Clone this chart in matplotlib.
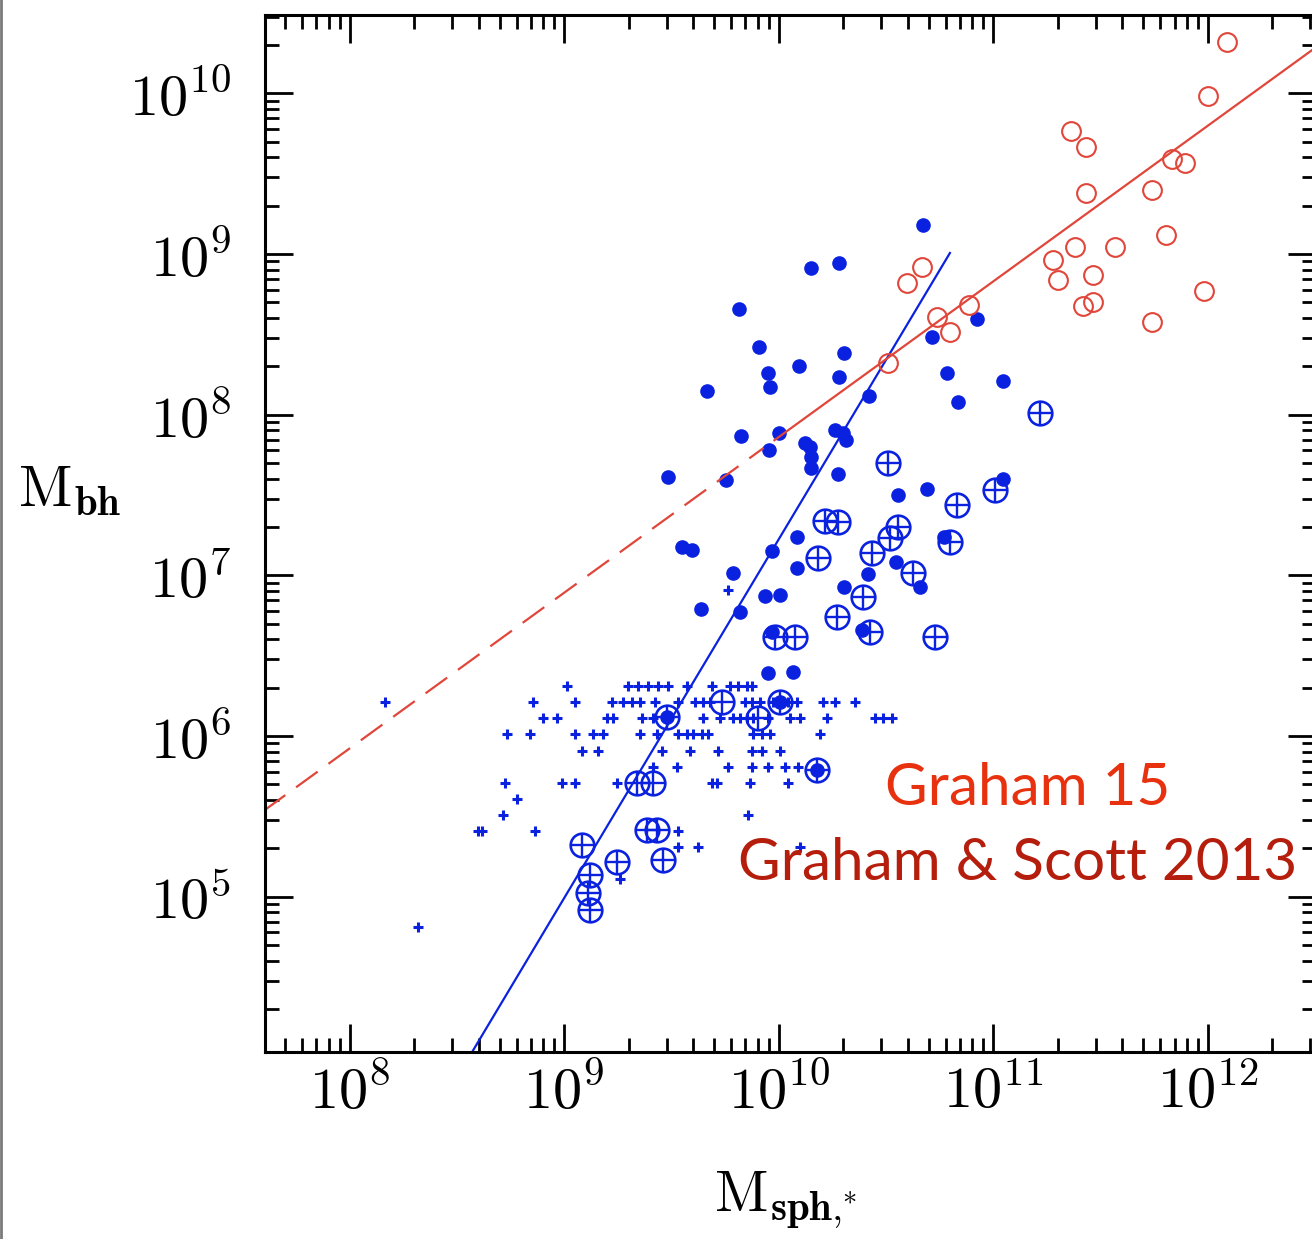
import matplotlib
matplotlib.use("Agg")
import matplotlib.pyplot as plt
import numpy as np
from matplotlib.lines import Line2D
from matplotlib.ticker import FuncFormatter, LogLocator, NullFormatter

plt.rcParams["mathtext.fontset"] = "cm"

# values, as log10 of the masses
red_lx = [12.088, 12.002, 11.361, 11.432, 11.432, 11.738, 11.831, 11.893, 11.805, 11.381,
          11.567, 11.280, 11.303, 11.463, 11.419, 11.466, 11.738, 11.982, 10.887, 10.798,
          10.596, 10.666, 10.736, 10.511]
red_ly = [10.321, 9.983, 9.765, 9.668, 9.381, 9.398, 9.589, 9.564, 9.118, 9.045,
          9.045, 8.963, 8.838, 8.869, 8.676, 8.703, 8.575, 8.772, 8.680, 8.517,
          8.818, 8.921, 8.610, 8.320]

dot_lx = [10.674, 10.149, 10.281, 9.816, 9.908, 10.096, 10.306, 10.281, 9.949, 9.959,
          9.665, 10.923, 10.713, 10.783, 10.837, 11.045, 10.422, 9.823, 10.001, 9.956,
          10.262, 10.300, 10.314, 10.123, 10.146, 10.149, 10.149, 10.278, 9.483, 9.754,
          10.557, 10.692, 9.548, 9.595, 10.084, 9.970, 10.084, 9.788, 10.545, 10.418,
          10.306, 9.936, 10.006, 9.638, 9.820, 10.658, 11.047, 10.770, 9.952, 10.068,
          9.478, 10.006, 10.177, 10.388, 9.969]
dot_ly = [9.180, 8.911, 8.946, 8.656, 8.423, 8.305, 8.386, 8.236, 8.261, 8.174,
          8.149, 8.594, 8.485, 8.258, 8.081, 8.210, 8.116, 7.867, 7.884, 7.780,
          7.905, 7.886, 7.843, 7.824, 7.799, 7.739, 7.667, 7.629, 7.610, 7.594,
          7.500, 7.536, 7.179, 7.158, 7.237, 7.154, 7.044, 7.013, 7.085, 7.009,
          6.930, 6.872, 6.878, 6.789, 6.774, 6.930, 7.598, 7.239, 6.391, 6.401,
          6.121, 6.212, 5.789, 6.660, 6.648]

oplus_lx = [11.218, 10.511, 10.829, 11.008, 10.216, 10.278, 10.557, 10.519, 10.433, 10.798,
            10.185, 10.627, 10.394, 10.270, 10.425, 10.728, 9.983, 10.076, 9.478, 9.734,
            10.006, 9.905, 10.177, 9.338, 9.416, 9.385, 9.431, 9.082, 9.245, 9.462,
            9.121, 9.113, 9.121]
oplus_ly = [8.009, 7.698, 7.438, 7.531, 7.339, 7.334, 7.303, 7.231, 7.138, 7.210,
            7.107, 7.013, 6.867, 6.743, 6.650, 6.614, 6.619, 6.619, 6.121, 6.214,
            6.214, 6.113, 5.789, 5.706, 5.706, 5.416, 5.416, 5.322, 5.219, 5.229,
            5.136, 5.024, 4.918]

# small crosses: rows of equal log M_bh
cross_rows = [
    (6.31, [9.012, 9.299, 9.346, 9.392, 9.439, 9.486, 9.571, 9.688, 9.773, 9.812, 9.851, 9.874]),
    (6.21, [8.165, 8.856, 9.051, 9.222, 9.276, 9.315, 9.354, 9.424, 9.532, 9.610, 9.649, 9.680,
            9.843, 9.874, 9.913, 9.975, 10.045, 10.084, 10.208, 10.262, 10.356]),
    (6.11, [8.903, 8.966, 9.199, 9.229, 9.362, 9.416, 9.649, 9.726, 9.788, 9.820, 9.851, 9.882,
            9.952, 10.052, 10.099, 10.224, 10.449, 10.487, 10.527]),
    (6.01, [8.733, 8.841, 9.051, 9.136, 9.183, 9.354, 9.431, 9.532, 9.571, 9.602, 9.641, 9.672,
            9.882, 9.921, 9.959, 10.192]),
    (5.91, [9.082, 9.159, 9.455, 9.587, 9.719, 9.874, 9.921, 10.006]),
    (5.81, [9.416, 9.525, 9.765, 9.874, 9.952, 10.029, 10.091]),
    (5.71, [8.725, 8.989, 9.051, 9.245, 9.688, 9.711, 9.866, 10.045]),
    (5.61, [8.779]),
    (5.51, [8.717, 9.858]),
    (5.41, [8.600, 8.616, 8.864, 9.532]),
    (5.31, [9.532, 9.625, 10.099]),
    (5.11, [9.260]),
    (6.91, [9.762]),
    (4.81, [8.321]),
]

# fit lines, end points in log10
red_dash_lx = [7.60, 9.93]
red_dash_ly = [5.535, 7.793]
red_solid_lx = [9.98, 12.52]
red_solid_ly = [7.841, 10.302]
blue_line_lx = [8.50, 10.798]
blue_line_ly = [3.875, 9.006]

blue = "#0a22e0"
red = "#e0463a"

fig = plt.figure(figsize=(13.12, 12.39), dpi=100)
ax = fig.add_axes([265 / 1312, 187 / 1239, 1051 / 1312, 1037 / 1239])
ax.set_xscale("log")
ax.set_yscale("log")

cx = [x for y, xs in cross_rows for x in xs]
cy = [y for y, xs in cross_rows for x in xs]
ax.plot(10 ** np.array(cx), 10 ** np.array(cy), "+", color=blue, ms=7, mew=2.2, ls="none")
ax.plot(10 ** np.array(oplus_lx), 10 ** np.array(oplus_ly), "o", mfc="none", mec=blue,
        ms=17, mew=1.9, ls="none")
ax.plot(10 ** np.array(oplus_lx), 10 ** np.array(oplus_ly), "+", color=blue, ms=17,
        mew=1.7, ls="none")
ax.plot(10 ** np.array(dot_lx), 10 ** np.array(dot_ly), "o", color=blue, ms=9.5, ls="none")

ax.plot(10 ** np.array(blue_line_lx), 10 ** np.array(blue_line_ly), color=blue, lw=1.6)
ax.plot(10 ** np.array(red_dash_lx), 10 ** np.array(red_dash_ly), color=red, lw=1.6,
        dashes=(12, 6))
ax.plot(10 ** np.array(red_solid_lx), 10 ** np.array(red_solid_ly), color=red, lw=1.6)
ax.plot(10 ** np.array(red_lx), 10 ** np.array(red_ly), "o", mfc="none", mec=red,
        ms=13.5, mew=1.5, ls="none")

ax.set_xlim(10 ** 7.606, 10 ** 12.504)
ax.set_ylim(10 ** 4.034, 10 ** 10.487)

fmt = FuncFormatter(lambda v, _: r"$10^{%d}$" % round(np.log10(v)))
for axis in (ax.xaxis, ax.yaxis):
    axis.set_major_locator(LogLocator(base=10, numticks=20))
    axis.set_minor_locator(LogLocator(base=10, subs=np.arange(2, 10), numticks=20))
    axis.set_major_formatter(fmt)
    axis.set_minor_formatter(NullFormatter())

ax.tick_params(which="both", direction="in", top=True, right=True, width=2, labelsize=42)
ax.tick_params(which="major", length=20)
ax.tick_params(which="minor", length=10)
ax.tick_params(axis="x", pad=8)
ax.tick_params(axis="y", pad=24)
for s in ax.spines.values():
    s.set_linewidth(2.2)

fig.text(70 / 1312, 1 - 490 / 1239, r"$\mathrm{M}_{\mathbf{bh}}$", fontsize=42,
         ha="center", va="center")
fig.text(785 / 1312, 1 - 1200 / 1239, r"$\mathrm{M}_{\mathbf{sph}{,}^{*}}$", fontsize=42,
         ha="center", va="center")

fig.text(1028 / 1312, 1 - 805 / 1239, "Graham 15", family="Lato", fontsize=42,
         color="#e8320f", ha="center", va="baseline")
fig.text(1018 / 1312, 1 - 880 / 1239, "Graham & Scott 2013", family="Lato", fontsize=42,
         color="#b51d0c", ha="center", va="baseline")

fig.add_artist(Line2D([0.001, 0.001], [0, 1], color="#7a7a7a", lw=2))

fig.savefig("out.png", dpi=100)
